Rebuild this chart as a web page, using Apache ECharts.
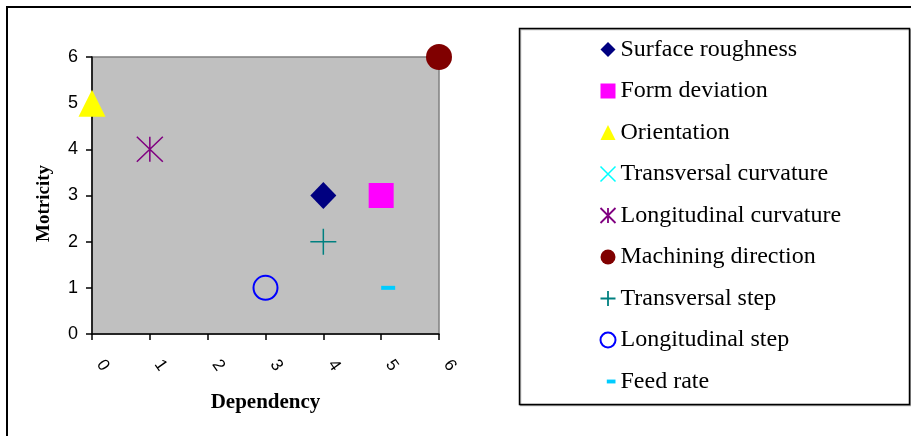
<!DOCTYPE html>
<html>
<head>
<meta charset="utf-8">
<script src="https://cdn.jsdelivr.net/npm/echarts@6/dist/echarts.min.js"></script>
<style>html,body{margin:0;padding:0;background:#fff;}#c{width:911px;height:436px;}</style>
</head>
<body>
<div id="c"></div>
<script>
// ---- data ----
var seriesNames = ['Surface roughness','Form deviation','Orientation','Transversal curvature','Longitudinal curvature','Machining direction','Transversal step','Longitudinal step','Feed rate'];
var surfaceRoughness = [[4,3]];
var formDeviation = [[5,3]];
var orientation = [[0,5]];
var transversalCurvature = [];
var longitudinalCurvature = [[1,4]];
var machiningDirection = [[6,6]];
var transversalStep = [[4,2]];
var longitudinalStep = [[3,1]];
var feedRate = [[5,1]];
var axisTicks = [0,1,2,3,4,5,6];
var xTitle = 'Dependency';
var yTitle = 'Motricity';

var PLUS = 'path://M0,-10L0,10M-10,0L10,0';
var CROSS = 'path://M-10,-10L10,10M-10,10L10,-10';
var STAR = 'path://M0,-10L0,10M-10,-10L10,10M-10,10L10,-10';
var DASH_ICON = 'path://M0,0L0,0M15,15L15,15M6.5,5.5h9v4h-9z';

var defs = [
  {data: surfaceRoughness, symbol:'diamond', size:[26,27], style:{color:'#000080'}, icon:'diamond', lstyle:{color:'#000080'}},
  {data: formDeviation, symbol:'rect', size:[25,25], style:{color:'#FF00FF'}, icon:'rect', lstyle:{color:'#FF00FF'}},
  {data: orientation, symbol:'triangle', size:[27,27], style:{color:'#FFFF00'}, icon:'triangle', lstyle:{color:'#FFFF00'}},
  {data: transversalCurvature, symbol:CROSS, size:[14,14], style:{color:'none', borderColor:'#00FFFF', borderWidth:1.5}, icon:CROSS, lstyle:{color:'none', borderColor:'#00FFFF', borderWidth:1.5}},
  {data: longitudinalCurvature, symbol:STAR, size:[26,25], style:{color:'none', borderColor:'#800080', borderWidth:1.5}, icon:STAR, lstyle:{color:'none', borderColor:'#800080', borderWidth:1.8}},
  {data: machiningDirection, symbol:'circle', size:[26,26], style:{color:'#800000'}, icon:'circle', lstyle:{color:'#800000'}},
  {data: transversalStep, symbol:PLUS, size:[26,26], style:{color:'none', borderColor:'#008080', borderWidth:1.5}, icon:PLUS, lstyle:{color:'none', borderColor:'#008080', borderWidth:1.8}},
  {data: longitudinalStep, symbol:'circle', size:[24,24], style:{color:'none', borderColor:'#0000FF', borderWidth:2}, icon:'circle', lstyle:{color:'none', borderColor:'#0000FF', borderWidth:2}},
  {data: feedRate, symbol:'rect', size:[14,4], offset:[7,0], style:{color:'#00CCFF'}, icon:DASH_ICON, lstyle:{color:'#00CCFF'}}
];

var series = defs.map(function(d,i){
  var st = Object.assign({opacity:1}, d.style);
  return {
    name: seriesNames[i], type:'scatter', data:d.data,
    symbol:d.symbol, symbolSize:d.size, symbolOffset:d.offset||[0,0],
    itemStyle:st, silent:true, animation:false, z: 2
  };
});

var legendData = defs.map(function(d,i){
  return {name: seriesNames[i], icon: d.icon, itemStyle: Object.assign({opacity:1}, d.lstyle)};
});

var chart = echarts.init(document.getElementById('c'), null, {renderer:'canvas'});
chart.setOption({
  animation:false,
  backgroundColor:'#ffffff',
  graphic:[
    {type:'rect', shape:{x:7,y:7,width:1000,height:1000}, style:{fill:'none', stroke:'#000', lineWidth:2}, silent:true, z:-1},
    {type:'rect', shape:{x:519.5,y:28.5,width:390,height:376}, style:{fill:'#fff', stroke:'#000', lineWidth:1.5, shadowColor:'rgba(0,0,0,0.3)', shadowOffsetX:1, shadowOffsetY:1}, silent:true, z:-1}
  ],
  grid:{left:92, right:472, top:57, bottom:102, show:true, backgroundColor:'#c0c0c0', borderColor:'#808080', borderWidth:1.5},
  xAxis:{
    type:'value', min:0, max:6, interval:1,
    name:xTitle, nameLocation:'middle', nameGap:58,
    nameTextStyle:{fontFamily:'Liberation Serif', fontWeight:'bold', fontSize:21, color:'#000'},
    axisLine:{show:true, onZero:false, lineStyle:{color:'#000', width:1.5}},
    axisTick:{show:true, inside:false, length:6, lineStyle:{color:'#000', width:1.5}},
    axisLabel:{rotate:-55, margin:16, padding:[0,0,0,14], fontFamily:'Liberation Sans', fontSize:17, color:'#000',
      formatter:function(v){ return axisTicks.indexOf(v)>=0 ? String(v) : ''; }},
    splitLine:{show:false}
  },
  yAxis:{
    type:'value', min:0, max:6, interval:1,
    name:yTitle, nameLocation:'middle', nameGap:38,
    nameTextStyle:{fontFamily:'Liberation Serif', fontWeight:'bold', fontSize:19, color:'#000', padding:[0,16,0,0]},
    axisLine:{show:true, onZero:false, lineStyle:{color:'#000', width:1.5}},
    axisTick:{show:true, inside:false, length:6, lineStyle:{color:'#000', width:1.5}},
    axisLabel:{margin:14, fontFamily:'Liberation Sans', fontSize:18, color:'#000',
      formatter:function(v){ return axisTicks.indexOf(v)>=0 ? String(v) : ''; }},
    splitLine:{show:false}
  },
  legend:{
    orient:'vertical', left:598, top:37.5, padding:0,
    itemWidth:15, itemHeight:15, itemGap:17.5,
    selectedMode:false,
    textStyle:{fontFamily:'Liberation Serif', fontSize:24, color:'#000', lineHeight:24},
    data:legendData
  },
  series:series
});
</script>
</body>
</html>
